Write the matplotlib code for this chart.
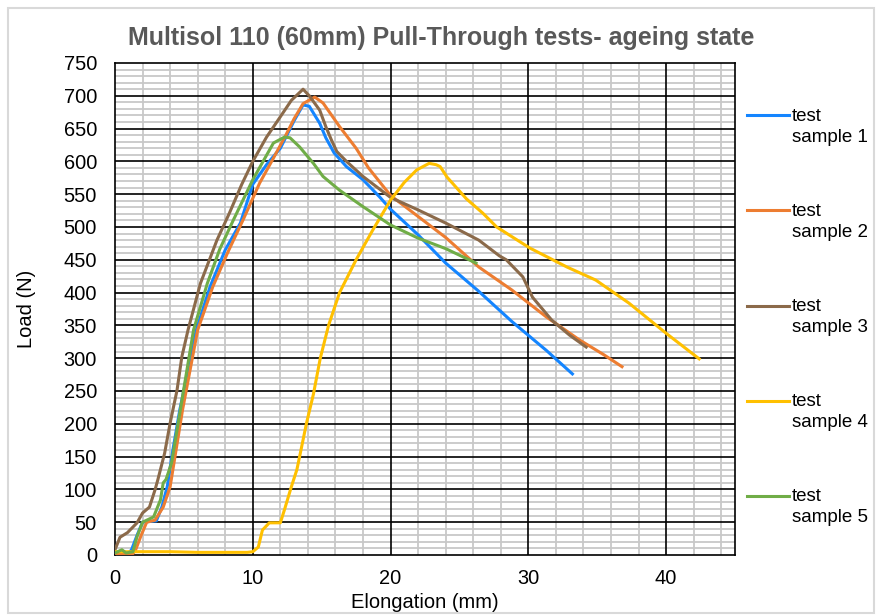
import matplotlib
matplotlib.use("Agg")
import numpy as np
import matplotlib.pyplot as plt
from matplotlib.legend_handler import HandlerLine2D
from matplotlib.patches import Rectangle
from matplotlib.ticker import MultipleLocator

plt.rcParams['font.family'] = ['Liberation Sans', 'DejaVu Sans']

# sample 1 (blue)
x1 = [0, 1.0, 1.2, 1.6, 2.0, 2.5, 3.0, 3.4, 3.8, 4.2, 4.7, 5.4, 5.9, 6.9, 8.0, 9.1,
      10.0, 11.0, 12.0, 13.0, 13.65, 14.1, 14.86, 15.3, 15.9, 16.8, 18.0, 19.2,
      20.0, 22.0, 24.0, 26.4, 28.8, 31.3, 33.2]
y1 = [3, 3, 8, 30, 50, 51, 52, 73, 105, 160, 221, 292, 343, 409, 465, 506,
      565, 595, 620, 662, 686, 684, 658, 636, 613, 592, 572, 546,
      527, 488, 445, 402, 356, 312, 276]

# sample 2 (orange)
x2 = [0, 1.3, 1.5, 1.9, 2.3, 2.9, 3.5, 4.0, 4.9, 6.0, 7.1, 8.2, 9.3, 10.5, 11.5,
      12.4, 13.0, 13.65, 14.5, 15.1, 16.3, 17.5, 18.4, 20.0, 22.0, 24.0,
      26.4, 28.8, 31.3, 33.7, 35.5, 36.8]
y2 = [2, 2, 8, 30, 50, 53, 73, 104, 221, 343, 409, 462, 511, 567, 605,
      640, 665, 688, 698, 689, 653, 620, 590, 548, 516, 484,
      439, 404, 363, 328, 305, 287]

# sample 3 (brown)
x3 = [0, 0.36, 0.9, 1.6, 2.0, 2.5, 2.9, 3.1, 3.6, 4.0, 4.5, 4.85, 5.3, 6.2, 7.4,
      8.3, 9.2, 10.0, 11.0, 12.0, 12.8, 13.65, 14.1, 14.86, 15.3, 15.7, 16.1, 16.8,
      18.0, 20.0, 22.0, 24.0, 26.4, 27.9, 28.4, 29.6, 30.3, 31.7, 33.0, 34.2]
y3 = [8, 27, 34, 49, 64, 73, 99, 114, 155, 201, 251, 302, 343, 414, 480,
      521, 565, 600, 637, 668, 693, 710, 700, 678, 653, 633, 615, 600,
      577, 545, 526, 506, 480, 456, 450, 424, 393, 358, 335, 317]

# sample 4 (yellow)
x4 = [0, 2, 4, 6, 8, 9.6, 10.0, 10.4, 10.7, 11.2, 12.0, 12.3, 12.8, 13.2, 13.4,
      13.9, 14.4, 14.9, 15.5, 16.3, 17.5, 18.7, 20.0, 21.0, 21.9, 22.8, 23.3, 23.6,
      24.1, 25.5, 26.7, 27.7, 30.1, 32.8, 34.9, 37.3, 40.0, 42.4]
y4 = [5, 5, 5, 4, 4, 4, 5, 12, 38, 49, 49, 69, 104, 130, 150,
      201, 245, 300, 350, 400, 450, 495, 541, 568, 587, 597, 595, 592,
      576, 543, 521, 500, 468, 439, 419, 384, 338, 299]

# sample 5 (green)
x5 = [0, 0.5, 0.8, 1.3, 1.6, 2.0, 2.8, 3.3, 3.5, 3.7, 4.1, 4.7, 5.7, 6.7, 7.6,
      8.6, 10.0, 11.5, 12.3, 12.7, 13.4, 14.4, 15.1, 16.3, 18.0, 20.0, 22.0, 24.0, 26.2]
y5 = [3, 8, 3, 5, 28, 50, 58, 84, 110, 115, 140, 216, 343, 414, 466,
      511, 572, 628, 637, 636, 622, 597, 577, 556, 531, 503, 483, 467, 445]

labels = ['test\nsample 1', 'test\nsample 2', 'test\nsample 3', 'test\nsample 4', 'test\nsample 5']
colors = ['#1485FF', '#ED7D31', '#8B6A4A', '#FFC000', '#70AD47']


class TopLineHandler(HandlerLine2D):
    # put the legend line level with the first text line
    def __init__(self, dy=0.0, **kw):
        super().__init__(**kw)
        self.dy = dy

    def create_artists(self, legend, orig_handle, xdescent, ydescent, width, height,
                       fontsize, trans):
        arts = super().create_artists(legend, orig_handle, xdescent, ydescent, width,
                                      height, fontsize, trans)
        for a in arts:
            a.set_ydata(np.asarray(a.get_ydata()) + self.dy * fontsize)
        return arts


fig = plt.figure(figsize=(8.82, 6.15), dpi=100)
ax = fig.add_axes([0.1304, 0.0976, 0.7029, 0.8])

series = [(x1, y1), (x2, y2), (x3, y3), (x4, y4), (x5, y5)]
for (xs, ys), lab, c in zip(series, labels, colors):
    ax.plot(xs, ys, color=c, lw=2.2, label=lab, zorder=3)

ax.set_xlim(0, 45)
ax.set_ylim(0, 750)
ax.xaxis.set_major_locator(MultipleLocator(10))
ax.xaxis.set_minor_locator(MultipleLocator(2))
ax.yaxis.set_major_locator(MultipleLocator(50))
ax.yaxis.set_minor_locator(MultipleLocator(10))
ax.grid(which='minor', color='#C8C8C8', lw=1.3)
ax.set_axisbelow(True)

# major grid drawn above the minor one
for v in ax.get_xticks():
    if 0 < v < 45:
        ax.axvline(v, color='black', lw=1.2, zorder=2)
for v in ax.get_yticks():
    if 0 < v < 750:
        ax.axhline(v, color='black', lw=1.2, zorder=2)

for s in ax.spines.values():
    s.set_color('black')
    s.set_linewidth(1.2)
ax.tick_params(which='both', length=0, labelsize=14.4)
ax.tick_params(axis='y', pad=13)
ax.tick_params(axis='x', pad=10)

ax.set_xlabel('Elongation (mm)', fontsize=14.5)
ax.set_ylabel('Load (N)', fontsize=14.5)
ax.xaxis.set_label_coords(0.5, -0.078)
ax.yaxis.set_label_coords(-0.128, 0.5)

fig.text(0.5, 0.938, 'Multisol 110 (60mm) Pull-Through tests- ageing state',
         ha='center', va='center', fontsize=18, fontweight='bold', color='#595959')

handles = ax.get_lines()[:5]
hmap = {h: TopLineHandler(dy=0.6) for h in handles}
leg = ax.legend(handles=handles, labels=labels, loc='center left',
                bbox_to_anchor=(1.0, 0.484), frameon=False, fontsize=13.5,
                handlelength=2.25, handletextpad=0.15, labelspacing=3.05,
                borderaxespad=0.25, handler_map=hmap)
for t in leg.get_texts():
    t.set_linespacing(1.3)

fig.patches.append(Rectangle((0.009, 0.004), 0.982, 0.983, transform=fig.transFigure,
                             fill=False, edgecolor='#D9D9D9', lw=1.5))

fig.savefig('out.png', dpi=100)
